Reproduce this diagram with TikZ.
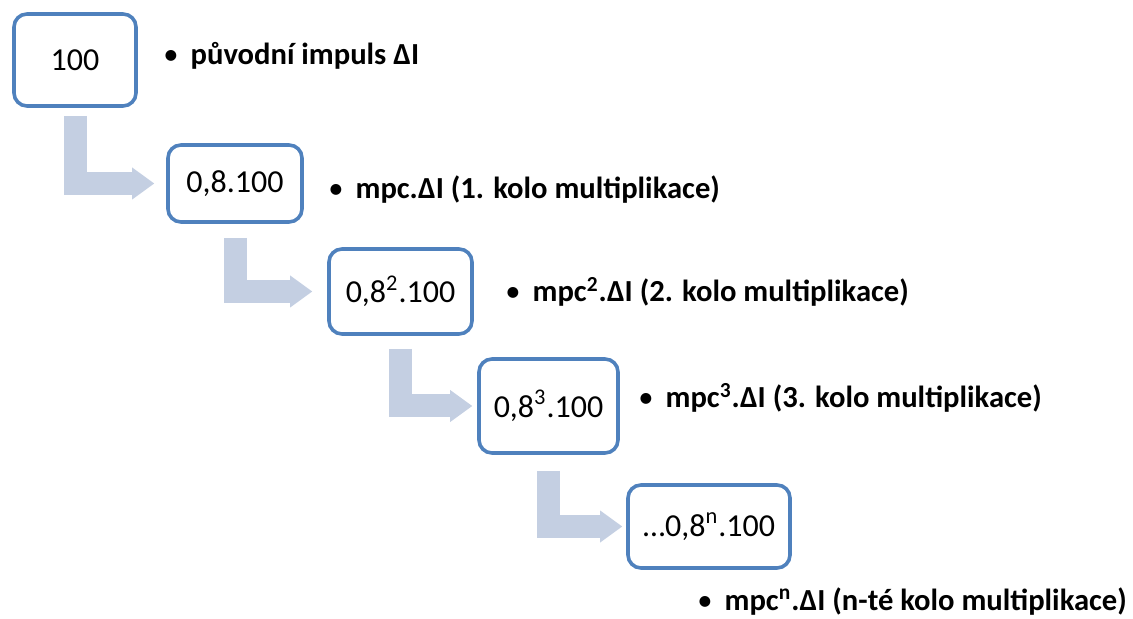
\documentclass[tikz,border=0pt]{standalone}
\usepackage{fontspec}
\setmainfont{Carlito}
\usetikzlibrary{arrows.meta}
\definecolor{boxblue}{RGB}{79,129,189}
\definecolor{flowgray}{RGB}{196,207,226}
\newcommand{\odrazka}{{\mdseries\textbullet}\hspace{6pt}}

\begin{document}
\begin{tikzpicture}[x=0.5pt,y=-0.5pt,
        krok/.style={draw=boxblue, line width=1.8pt, rounded corners=6.5pt, fill=white,
            font=\fontsize{16}{19}\selectfont, inner sep=0pt},
        popis/.style={anchor=base west, inner sep=0pt, font=\bfseries\fontsize{15.3}{18}\selectfont},
        tok/.style={draw=flowgray, line width=11.5pt, -{Triangle[length=11pt,width=16pt,line width=0pt]}}]
        \useasboundingbox (0,0) rectangle (1133,619);
        \node[krok, minimum width=61pt, minimum height=46pt] (A) at (75,60) {100};
        \node[krok, minimum width=67pt, minimum height=38.5pt] (B) at (235,183.5) {0,8.100};
        \node[krok, minimum width=71.5pt, minimum height=42.5pt] (C) at (400.5,291.5) {0,8\textsuperscript{2}.100};
        \node[krok, minimum width=69.5pt, minimum height=47pt] (D) at (548.5,406) {0,8\textsuperscript{3}.100};
        \node[krok, minimum width=81pt, minimum height=41.5pt] (E) at (709,526.5) {…0,8\textsuperscript{n}.100};
        \node[popis] (a) at (163,65) {\odrazka původní impuls ΔI};
        \node[popis] (b) at (328,199) {\odrazka mpc.ΔI (1. kolo multiplikace)};
        \node[popis] (c) at (505,302) {\odrazka mpc\textsuperscript{2}.ΔI (2. kolo multiplikace)};
        \node[popis] (d) at (638,408) {\odrazka mpc\textsuperscript{3}.ΔI (3. kolo multiplikace)};
        \node[popis] (e) at (697,610) {\odrazka mpc\textsuperscript{n}.ΔI (n-té kolo multiplikace)};
        \draw [tok, shorten <=4pt, shorten >=6pt] (A.south) |- (B.west);
        \draw [tok, shorten <=7pt, shorten >=7.5pt] (B.south) |- (C.west);
        \draw [tok, shorten <=6.5pt, shorten >=2.5pt] (C.south) |- (D.west);
        \draw [tok, shorten <=8pt, shorten >=2pt] (D.south) |- (E.west);
    \end{tikzpicture}
\end{document}
